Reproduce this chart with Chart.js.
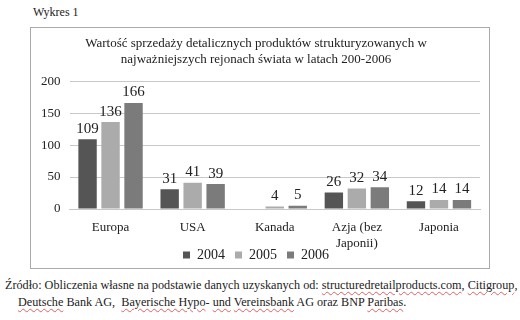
<!DOCTYPE html>
<html lang="pl">
<head>
<meta charset="UTF-8">
<title>Wykres 1</title>
<script src="https://cdn.jsdelivr.net/npm/chart.js"></script>
<style>
  body { margin: 0; width: 520px; height: 320px; background: #fff; position: relative; overflow: hidden;
         font-family: "Liberation Serif", "Times New Roman", serif; color: #222; }
  .caption { position: absolute; left: 33px; top: 5px; font-size: 12px; }
  .box { position: absolute; left: 30px; top: 27px; width: 458px; height: 240px; border: 1px solid #aaa; }
  #chart { position: absolute; left: 31px; top: 28px; }
  .source { position: absolute; left: 5px; top: 277px; width: 515px; font-size: 12.2px; line-height: 17px; white-space: nowrap; }
  .source .l2 { padding-left: 13px; }
  .sp { text-decoration: underline wavy #e06060; text-decoration-thickness: 1px; text-underline-offset: 2px; }
</style>
</head>
<body>
<div class="caption">Wykres 1</div>
<div class="box"></div>
<canvas id="chart" width="458" height="244"></canvas>
<div class="source">
  Źródło: Obliczenia własne na podstawie danych uzyskanych od: <span class="sp">structuredretailproducts.com</span>, <span class="sp">Citigroup</span>,<br>
  <span class="l2"><span class="sp">Deutsche</span> Bank AG,&nbsp; <span class="sp">Bayerische Hypo</span>- <span class="sp">und</span> <span class="sp">Vereinsbank</span> AG oraz BNP <span class="sp">Paribas</span>.</span>
</div>
<script>
const regions = ['Europa', 'USA', 'Kanada', ['Azja (bez', 'Japonii)'], 'Japonia'];
const years = ['2004', '2005', '2006'];
const sales2004 = [109, 31, null, 26, 12];
const sales2005 = [136, 41, 4, 32, 14];
const sales2006 = [166, 39, 5, 34, 14];
const yTicks = [0, 50, 100, 150, 200];

const colors = ['#555555', '#ababab', '#7b7b7b'];
const serif = '"Liberation Serif", "Times New Roman", serif';

// value labels above the bars
const barLabels = {
    id: 'barLabels',
    afterDatasetsDraw(chart) {
        const ctx = chart.ctx;
        ctx.save();
        ctx.font = '15px ' + serif;
        ctx.fillStyle = '#222';
        ctx.textAlign = 'center';
        ctx.textBaseline = 'bottom';
        chart.data.datasets.forEach((ds, i) => {
            chart.getDatasetMeta(i).data.forEach((bar, j) => {
                if (ds.data[j] == null) return;
                ctx.fillText(ds.data[j], bar.x, bar.y - 3);
            });
        });
        ctx.restore();
    }
};

// the x axis is kept short so the legend sits close; let its 2-line label run past it
const unclipX = {
    id: 'unclipX',
    afterLayout(chart) { chart.scales.x.bottom += 18; }
};

new Chart(document.getElementById('chart'), {
    type: 'bar',
    data: {
        labels: regions,
        datasets: [
            { label: years[0], data: sales2004, backgroundColor: colors[0] },
            { label: years[1], data: sales2005, backgroundColor: colors[1] },
            { label: years[2], data: sales2006, backgroundColor: colors[2] }
        ]
    },
    options: {
        responsive: false,
        animation: false,
        categoryPercentage: 0.84,
        barPercentage: 0.8,
        layout: { padding: { left: 1, right: 9, top: 0, bottom: 0 } },
        plugins: {
            title: {
                display: true,
                text: ['Wartość sprzedaży detalicznych produktów strukturyzowanych w',
                       'najważniejszych rejonach świata w latach 200-2006'],
                font: { family: serif, size: 13, weight: 'normal' },
                color: '#222',
                padding: { top: 8, bottom: 14 },
                lineHeight: 1.1
            },
            legend: {
                position: 'bottom',
                labels: {
                    boxWidth: 7, boxHeight: 7, padding: 10,
                    font: { family: serif, size: 14 }, color: '#222'
                }
            },
            tooltip: { enabled: false }
        },
        scales: {
            x: {
                grid: { display: false },
                border: { color: '#c8c8c8' },
                ticks: { font: { family: serif, size: 13 }, color: '#222', maxRotation: 0, padding: 3 },
                afterFit: axis => { axis.height = 29; }
            },
            y: {
                min: 0, max: 200,
                afterBuildTicks: axis => { axis.ticks = yTicks.map(v => ({ value: v })); },
                grid: { color: '#c8c8c8', drawTicks: false },
                border: { display: false },
                ticks: { font: { family: serif, size: 13 }, color: '#222', padding: 9 }
            }
        }
    },
    plugins: [barLabels, unclipX]
});
</script>
</body>
</html>
